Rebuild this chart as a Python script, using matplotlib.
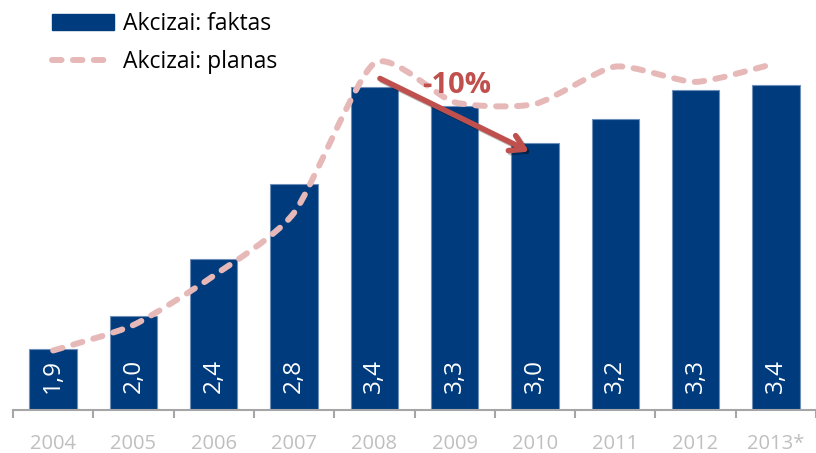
import numpy as np
import matplotlib.pyplot as plt
from matplotlib.path import Path
from matplotlib.patches import PathPatch, Patch
from matplotlib.lines import Line2D
import matplotlib.patheffects as pe

plt.rcParams['font.family'] = ['Open Sans', 'DejaVu Sans']

years = ['2004', '2005', '2006', '2007', '2008', '2009', '2010', '2011', '2012', '2013*']
faktas = [1.81, 2.00, 2.34, 2.78, 3.35, 3.24, 3.02, 3.16, 3.33, 3.36]
faktas_labels = ['1,9', '2,0', '2,4', '2,8', '3,4', '3,3', '3,0', '3,2', '3,3', '3,4']
planas = [1.80, 1.95, 2.24, 2.61, 3.49, 3.26, 3.25, 3.47, 3.38, 3.49]

bar_col = '#003c7d'
plan_col = '#e6b9b8'
red = '#c0504d'


def smooth_path(xs, ys, t=0.11):
    # excel-like smoothed line as cubic bezier segments
    pts = np.column_stack([xs, ys]).astype(float)
    n = len(pts)
    verts = [pts[0]]
    codes = [Path.MOVETO]
    for i in range(n - 1):
        p0 = pts[i - 1] if i > 0 else pts[i]
        p1 = pts[i]
        p2 = pts[i + 1]
        p3 = pts[i + 2] if i + 2 < n else pts[i + 1]
        c1 = p1 + (p2 - p0) * t
        c2 = p2 - (p3 - p1) * t
        verts += [c1, c2, p2]
        codes += [Path.CURVE4] * 3
    return Path(verts, codes)


fig = plt.figure(figsize=(8.16, 4.53), dpi=100)
ax = fig.add_axes([13 / 816., 43 / 453., 803 / 816., 410 / 453.])

x = np.arange(len(years))
ax.bar(x, faktas, width=0.59, color=bar_col, edgecolor='#6f8fb8', linewidth=0.8, zorder=2)

for xi, v, lab in zip(x, faktas, faktas_labels):
    ax.annotate(lab, (xi, 1.45), xytext=(0, 12), textcoords='offset points',
                rotation=90, ha='center', va='bottom', color='white', fontsize=17.5, zorder=3)

path = smooth_path(x, planas)
ax.add_patch(PathPatch(path, facecolor='none', edgecolor=plan_col, lw=4.3,
                       linestyle=(0, (1.6, 1.9)), capstyle='round', zorder=4, clip_on=False))

ax.annotate('', xy=(5.93, 2.97), xytext=(4.07, 3.40),
            arrowprops=dict(arrowstyle='->,head_length=1.0,head_width=0.6', lw=4, color=red,
                            shrinkA=0, shrinkB=0,
                            path_effects=[pe.SimpleLineShadow(offset=(1.5, -1.5), alpha=0.25), pe.Normal()]),
            zorder=5)
ax.text(5.02, 3.36, '-10%', color=red, fontsize=21, fontweight='bold', ha='center', va='center', zorder=5)

ax.set_xlim(-0.5, -0.5 + 803 / 81.7)
ax.set_ylim(1.45, 1.45 + 410 / 170.)
ax.set_xticks(x)
ax.set_xticklabels(years)
ax.set_xticks(np.arange(-0.5, len(years), 1.0), minor=True)
ax.tick_params(axis='x', which='major', length=0, pad=17, labelsize=14.5, labelcolor='#bfbfbf')
ax.tick_params(axis='x', which='minor', length=6, width=1.5, color='#a6a6a6')
ax.set_yticks([])
for s in ['left', 'right', 'top']:
    ax.spines[s].set_visible(False)
ax.spines['bottom'].set_color('#a6a6a6')
ax.spines['bottom'].set_linewidth(1.5)

handles = [Patch(facecolor=bar_col, edgecolor=bar_col),
           Line2D([], [], color=plan_col, lw=4.3, linestyle=(0, (1.6, 1.9)), dash_capstyle='round')]
fig.legend(handles, ['Akcizai: faktas', 'Akcizai: planas'], loc='upper left',
           bbox_to_anchor=(43 / 816., 1 - 3 / 453.), frameon=False, fontsize=16.5,
           handlelength=2.7, handletextpad=0.4, labelspacing=0.6, borderaxespad=0)

fig.savefig('out.png', dpi=100)
